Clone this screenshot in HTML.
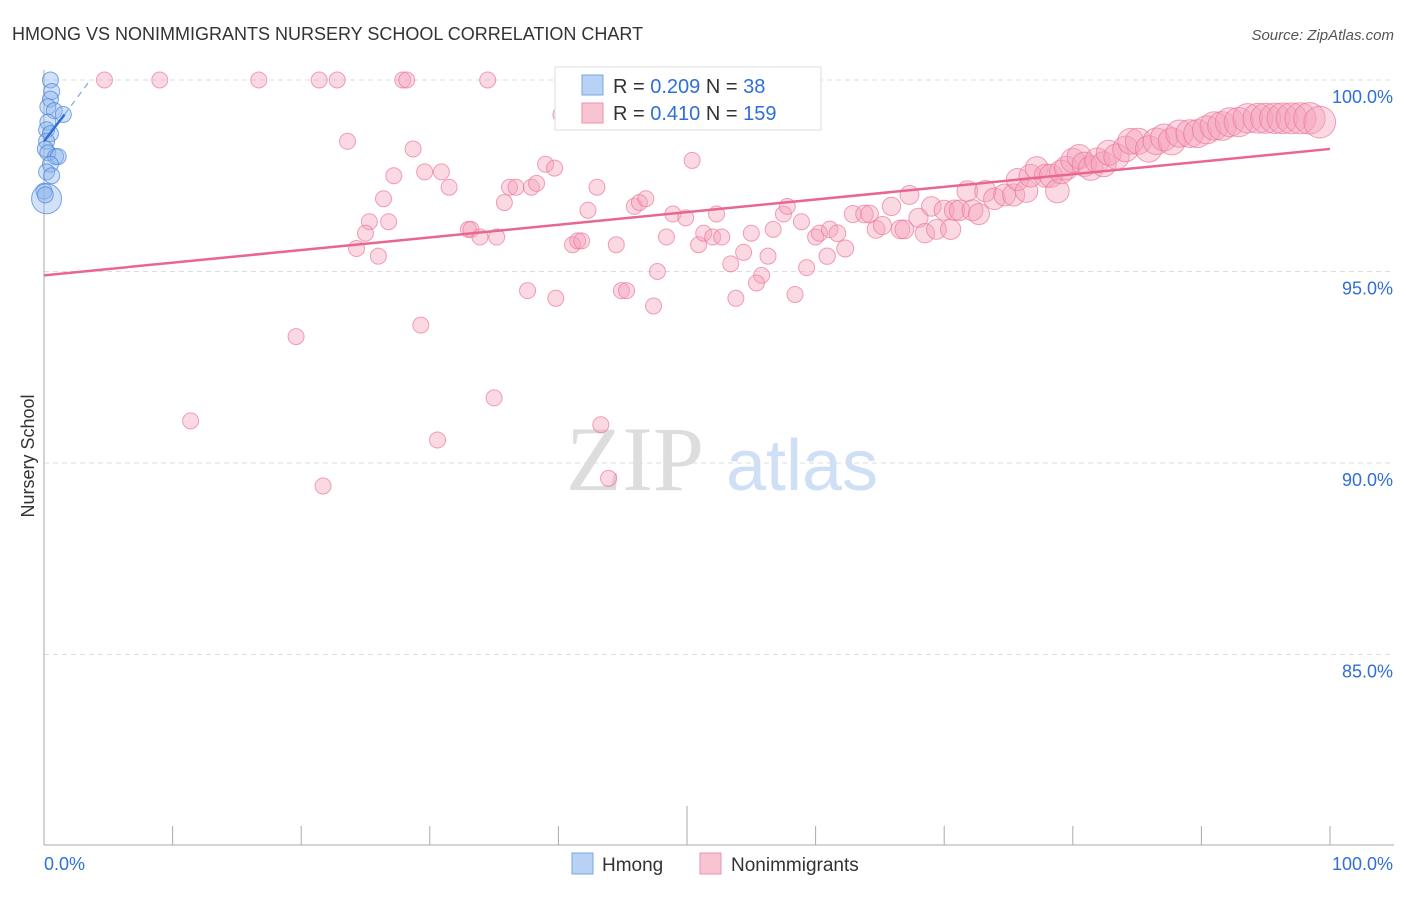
<!DOCTYPE html>
<html><head><meta charset="utf-8"><style>
body{margin:0;background:#fff;font-family:"Liberation Sans",sans-serif}
</style></head><body>
<svg id="c" width="1406" height="892" xmlns="http://www.w3.org/2000/svg" style="font-family:'Liberation Sans',sans-serif">
<text x="12" y="40" font-size="18" fill="#333">HMONG VS NONIMMIGRANTS NURSERY SCHOOL CORRELATION CHART</text>
<text x="1394" y="40" font-size="15" fill="#555" font-style="italic" text-anchor="end">Source: ZipAtlas.com</text>
<text x="34" y="456" font-size="18" fill="#333" transform="rotate(-90 34 456)" text-anchor="middle">Nursery School</text>
<g><text x="635" y="490" font-size="92" fill="#ddd" font-family="Liberation Serif" text-anchor="middle">ZIP</text><text x="802" y="490" font-size="72" fill="#cfdff5" text-anchor="middle">atlas</text></g>
<g id="grid"></g><g id="axes"></g><g id="pink"></g><g id="blue"></g><g id="trend"></g>
<g>
<rect x="555" y="67" width="266" height="63" fill="#fff" stroke="#ddd"/>
<rect x="582" y="75" width="21" height="20" fill="#b8d2f5" stroke="#7aa6e6"/>
<text x="613" y="93" font-size="20" fill="#333">R = <tspan fill="#2f6fd6">0.209</tspan>   N = <tspan fill="#2f6fd6"> 38</tspan></text>
<rect x="582" y="103" width="21" height="20" fill="#f8c4d2" stroke="#ee92ad"/>
<text x="613" y="120" font-size="20" fill="#333">R = <tspan fill="#2f6fd6">0.410</tspan>   N = <tspan fill="#2f6fd6">159</tspan></text>
</g>
<g>
<rect x="572" y="853" width="21" height="21" fill="#b8d2f5" stroke="#7aa6e6"/>
<text x="602" y="871" font-size="19" fill="#333">Hmong</text>
<rect x="700" y="853" width="21" height="21" fill="#f8c4d2" stroke="#ee92ad"/>
<text x="731" y="871" font-size="19" fill="#333">Nonimmigrants</text>
</g>
<text x="44" y="870" font-size="18" fill="#2f6fd6">0.0%</text>
<text x="1393" y="870" font-size="18" fill="#2f6fd6" text-anchor="end">100.0%</text>
</svg>
<script>
const yTicks=[100,95,90,85];
const yTickLabels=["100.0%","95.0%","90.0%","85.0%"];
const pinkX=[4.7,9.0,16.7,21.4,22.8,27.9,28.2,34.5,23.6,28.7,27.2,26.4,29.6,30.9,31.5,25.3,26.8,25.0,24.3,26.0,33.0,33.2,33.9,35.2,36.2,36.7,37.9,38.3,39.0,39.7,35.8,43.0,42.3,41.1,41.5,41.8,44.5,45.9,46.3,46.8,50.4,48.9,49.9,48.4,50.9,51.3,52.0,52.7,52.3,53.4,54.4,55.0,56.7,57.5,57.8,56.3,55.8,55.4,53.8,58.4,59.3,58.9,60.0,60.3,61.1,61.7,62.3,60.9,37.6,39.8,44.9,45.3,47.4,47.7,29.3,19.6,11.4,35.0,30.6,21.7,43.3,43.9,62.9,63.8,64.2,64.7,65.2,66.6,66.9,65.9,67.3,68.0,68.5,69.0,69.4,70.0,70.5,70.8,71.2,71.8,72.2,72.7,73.2,73.9,74.7,75.4,75.7,76.4,76.7,77.2,77.9,78.3,78.8,79.1,79.5,80.0,80.5,80.9,81.4,81.9,82.4,82.8,83.4,84.1,84.5,85.1,85.9,86.5,87.1,87.7,88.3,89.1,89.7,90.4,91.0,91.6,92.2,92.9,93.6,94.4,95.0,95.7,96.3,97.0,97.7,98.4,99.2,40.2];
const pinkY=[100,100,100,100,100,100,100,100,98.4,98.2,97.5,96.9,97.6,97.6,97.2,96.3,96.3,96.0,95.6,95.4,96.1,96.1,95.9,95.9,97.2,97.2,97.2,97.3,97.8,97.7,96.8,97.2,96.6,95.7,95.8,95.8,95.7,96.7,96.8,96.9,97.9,96.5,96.4,95.9,95.7,96.0,95.9,95.9,96.5,95.2,95.5,96.0,96.1,96.5,96.7,95.4,94.9,94.7,94.3,94.4,95.1,96.3,95.9,96.0,96.1,96.0,95.6,95.4,94.5,94.3,94.5,94.5,94.1,95.0,93.6,93.3,91.1,91.7,90.6,89.4,91.0,89.6,96.5,96.5,96.5,96.1,96.2,96.1,96.1,96.7,97.0,96.4,96.0,96.7,96.1,96.6,96.1,96.6,96.6,97.1,96.6,96.5,97.1,96.9,97.0,97.0,97.4,97.1,97.5,97.7,97.5,97.5,97.1,97.6,97.7,97.9,98.0,97.8,97.7,97.9,97.8,98.1,98.0,98.2,98.4,98.4,98.2,98.4,98.5,98.4,98.6,98.6,98.6,98.7,98.8,98.8,98.9,98.9,99.0,99.0,99.0,99.0,99.0,99.0,99.0,99.0,98.9,99.1];
const blueX=[0.5,0.6,0.5,0.3,0.8,1.5,0.3,0.2,0.5,0.2,0.1,0.3,0.9,1.1,0.5,0.2,0.6,0.0,0.2,0.1];
const blueY=[100,99.7,99.5,99.3,99.2,99.1,98.9,98.7,98.6,98.4,98.2,98.1,98.0,98.0,97.8,97.6,97.5,97.1,96.9,97.0];
const pinkTrend=[94.9,98.2];
const blueTrend=[98.4,99.1,100.0];
const blueTrendX=[0,1.6,3.6];
const NS="http://www.w3.org/2000/svg";
const X=v=>44+v*12.86, Y=v=>80+(100-v)*38.3;
function mk(t,a,p){const e=document.createElementNS(NS,t);for(const k in a)e.setAttribute(k,a[k]);document.getElementById(p).appendChild(e);return e;}
yTicks.forEach((t,i)=>{
 const l=mk('line',{x1:44,x2:1394,y1:Y(t),y2:Y(t),stroke:'#ddd','stroke-dasharray':'5,4'},'grid');
 
 
 const tx=mk('text',{x:1393,y:Y(t)+23,'font-size':18,fill:'#2f6fd6','text-anchor':'end'},'grid');
 tx.textContent=yTickLabels[i];
 
 
});
const ax=mk('line',{x1:44,x2:44,y1:70,y2:845,stroke:'#aaa'},'axes');


const bx=mk('line',{x1:44,x2:1394,y1:845,y2:845,stroke:'#aaa'},'axes');


for(let i=1;i<=10;i++){const t=mk('line',{x1:X(i*10),x2:X(i*10),y1:i==5?806:826,y2:845,stroke:'#aaa'},'axes');
 
 }
pinkX.forEach((x,i)=>{const r=x>60?8+Math.min(8,(x-60)*0.2):8;
 const c=mk('circle',{cx:X(x),cy:Y(pinkY[i]),r:r,fill:'rgba(244,160,185,0.4)',stroke:'rgba(236,120,155,0.7)','stroke-width':1},'pink');
 
 });
blueX.forEach((x,i)=>{const r=i==18?15:8;
 const c=mk('circle',{cx:X(x),cy:Y(blueY[i]),r:r,fill:'rgba(140,180,235,0.4)',stroke:'rgba(70,130,220,0.7)','stroke-width':1},'blue');
 
 });
const pt=mk('line',{x1:X(0),y1:Y(pinkTrend[0]),x2:X(100),y2:Y(pinkTrend[1]),stroke:'#e8668f','stroke-width':2.5},'trend');


const bt=mk('line',{x1:X(blueTrendX[0]),y1:Y(blueTrend[0]),x2:X(blueTrendX[1]),y2:Y(blueTrend[1]),stroke:'#2f6fd6','stroke-width':2.5},'trend');


const bd=mk('line',{x1:X(blueTrendX[1]),y1:Y(blueTrend[1]),x2:X(blueTrendX[2]),y2:Y(blueTrend[2]),stroke:'#7aa6e6','stroke-width':1.2,'stroke-dasharray':'6,5'},'trend');


</script>
</body></html>
